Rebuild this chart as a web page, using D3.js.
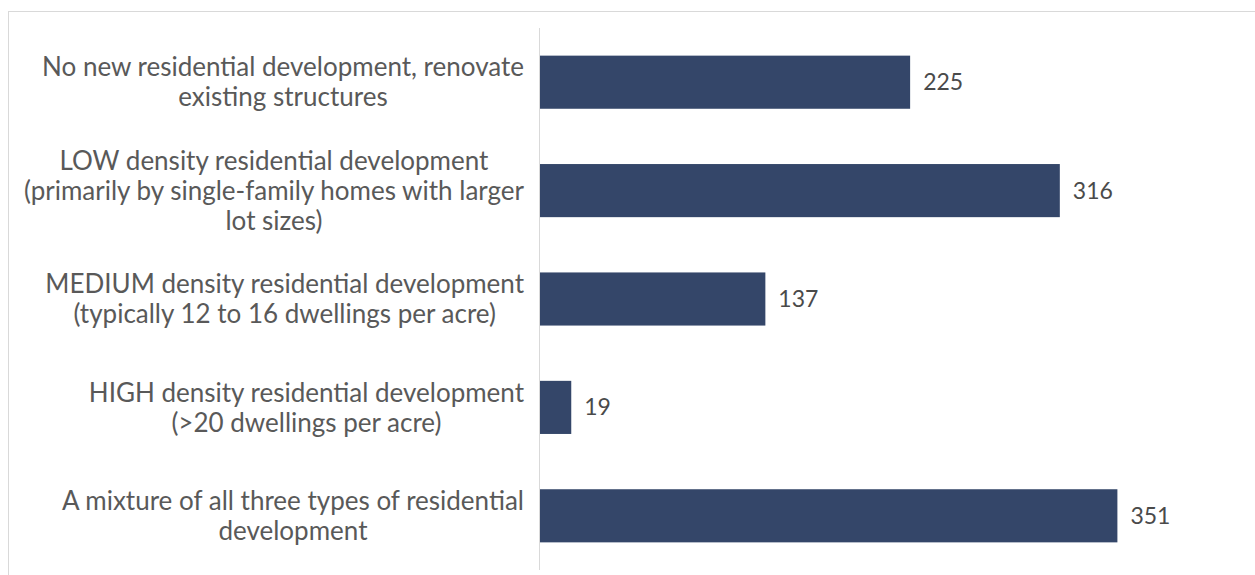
<!DOCTYPE html>
<html>
<head>
<meta charset="utf-8">
<script src="https://cdn.jsdelivr.net/npm/d3@7"></script>
<style>
  body { margin: 0; background: #fff; }
  svg { display: block; }
</style>
</head>
<body>
<div id="chart-area"></div>
<script>
// data
var categories = [
    ["No new residential development, renovate", "existing structures"],
    ["LOW density residential development", "(primarily by single-family homes with larger", "lot sizes)"],
    ["MEDIUM density residential development", "(typically 12 to 16 dwellings per acre)"],
    ["HIGH density residential development", "(>20 dwellings per acre)"],
    ["A mixture of all three types of residential", "development"]
];
var values = [225, 316, 137, 19, 351];
var xDomain = [0, 400];

var width = 1255, height = 575;
var axisX = 540, labelRight = 524;

var svg = d3.select("#chart-area").append("svg")
    .attr("width", width)
    .attr("height", height);

// outer chart frame (runs off the picture on the right and bottom)
svg.append("rect")
    .attr("x", 8.5)
    .attr("y", 11.5)
    .attr("width", 1300)
    .attr("height", 700)
    .attr("fill", "none")
    .attr("stroke", "#d9d9d9")
    .attr("stroke-width", 1);

var x = d3.scaleLinear()
    .domain(xDomain)
    .range([axisX, 1198]);

var y = d3.scaleBand()
    .domain(d3.range(values.length))
    .range([28, 570])
    .paddingInner(0.51)
    .paddingOuter(0.255);

// bars
svg.selectAll("rect.bar")
    .data(values).enter()
    .append("rect")
        .attr("class", "bar")
        .attr("x", x(0))
        .attr("y", function(d, i) { return y(i); })
        .attr("width", function(d) { return x(d) - x(0); })
        .attr("height", y.bandwidth())
        .attr("fill", "#344669");

// vertical axis line
svg.append("line")
    .attr("x1", axisX - 0.5).attr("x2", axisX - 0.5)
    .attr("y1", 28).attr("y2", 570)
    .attr("stroke", "#d9d9d9")
    .attr("stroke-width", 1);

// value labels
svg.selectAll("text.value")
    .data(values).enter()
    .append("text")
        .attr("class", "value")
        .attr("x", function(d) { return x(d) + 13; })
        .attr("y", function(d, i) { return y(i) + y.bandwidth() / 2; })
        .attr("dy", "0.35em")
        .attr("font-family", "Lato, sans-serif")
        .attr("font-size", "23px")
        .attr("fill", "#4a4a4a")
        .text(function(d) { return d; });

// category labels: lines centred on the widest line, which is right aligned
var lineH = 30;
categories.forEach(function(lines, i) {
    var g = svg.append("g");
    var cy = y(i) + y.bandwidth() / 2;
    var top = cy - (lines.length - 1) * lineH / 2;
    var texts = lines.map(function(s, j) {
        return g.append("text")
            .attr("y", top + j * lineH)
            .attr("dy", "0.35em")
            .attr("text-anchor", "middle")
            .attr("font-family", "Lato, sans-serif")
            .attr("font-size", "26px")
            .attr("fill", "#595959")
            .text(s);
    });
    var w = d3.max(texts, function(t) { return t.node().getComputedTextLength(); });
    texts.forEach(function(t) { t.attr("x", labelRight - w / 2); });
});
</script>
</body>
</html>
